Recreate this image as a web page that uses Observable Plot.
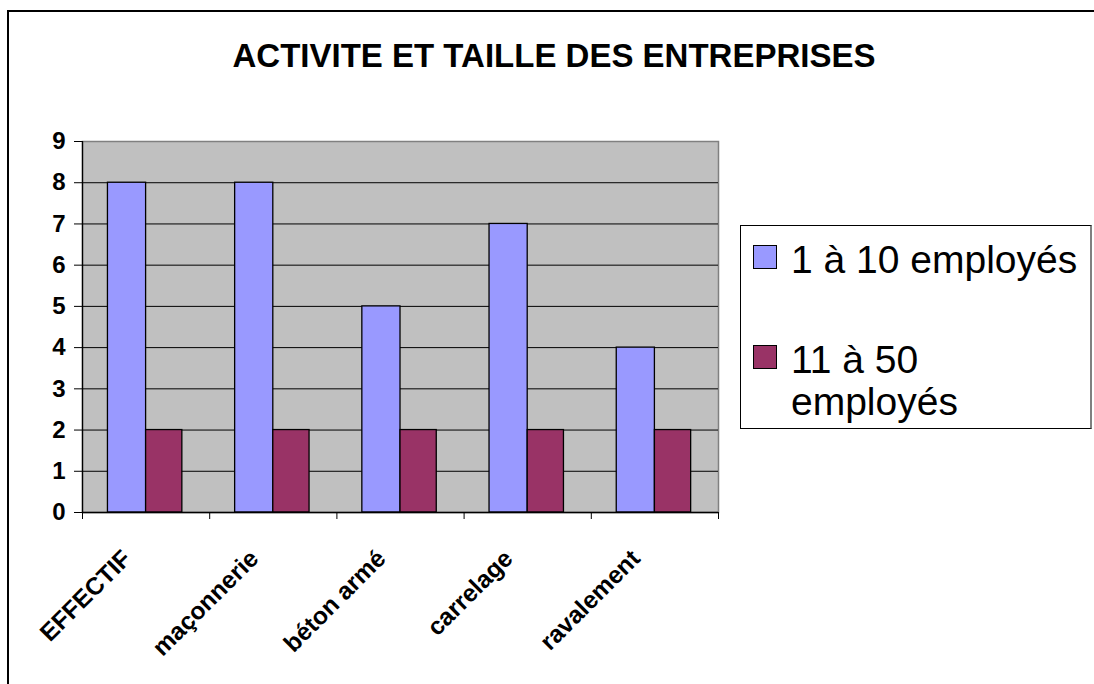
<!DOCTYPE html>
<html><head><meta charset="utf-8">
<script src="https://cdn.jsdelivr.net/npm/d3@7"></script>
<script src="https://cdn.jsdelivr.net/npm/@observablehq/plot@0.6"></script>
<style>
html,body{margin:0;background:#fff;font-family:"Liberation Sans",Arial,sans-serif;overflow:hidden;}
#wrap{position:relative;width:1094px;height:684px;overflow:hidden;background:#fff;}
#border{position:absolute;left:7px;top:10px;width:2000px;height:1000px;border-left:2px solid #000;border-top:2px solid #000;box-sizing:border-box;}
#title{position:absolute;left:0;width:1108px;top:39px;line-height:33px;text-align:center;font-weight:bold;font-size:33px;color:#000;}
#chart{position:absolute;left:0;top:0;}
#legend{position:absolute;left:740px;top:225px;width:352px;height:204px;border:1px solid #000;border-right:2px solid #808080;box-sizing:border-box;background:#fff;}
.item{position:absolute;left:12px;display:flex;align-items:flex-start;}
.sw{width:24px;height:24px;border:1px solid #000;box-sizing:border-box;margin-top:6px;margin-right:14px;flex:none;}
.lt{font-size:39px;line-height:42px;color:#000;white-space:nowrap;}
</style></head>
<body>
<div id="wrap">
  <div id="border"></div>
  <div id="chart"></div>
  <div id="title"></div>
  <div id="legend"></div>
</div>
<script>
const title = "ACTIVITE ET TAILLE DES ENTREPRISES";
const categories = ["EFFECTIF", "maçonnerie", "béton armé", "carrelage", "ravalement"];
const seriesNames = ["1 à 10 employés", "11 à 50 employés"];
const seriesLegendLines = [["1 à 10 employés"], ["11 à 50", "employés"]];
const seriesColors = ["#9999FF", "#993366"];
const small = [8, 8, 5, 7, 4];
const medium = [2, 2, 2, 2, 2];
const yTicks = [0, 1, 2, 3, 4, 5, 6, 7, 8, 9];
const gridValues = [1, 2, 3, 4, 5, 6, 7, 8];
const xBoundaries = [0, 1, 2, 3, 4, 5];

document.getElementById("title").textContent = title;

const rows = [];
categories.forEach((c, i) => {
  rows.push({cat: c, i, s: 0, value: small[i]});
  rows.push({cat: c, i, s: 1, value: medium[i]});
});

const font = '"Liberation Sans", Arial, sans-serif';
const chart = Plot.plot({
  width: 740,
  height: 684,
  marginLeft: 82,
  marginRight: 22,
  marginTop: 141,
  marginBottom: 172,
  style: {fontFamily: font, color: "#000", background: "transparent", overflow: "visible"},
  x: {type: "linear", domain: [0, categories.length], axis: null},
  y: {domain: [0, 9], axis: null},
  marks: [
    Plot.frame({fill: "#C0C0C0", stroke: "#808080", strokeWidth: 1.5}),
    Plot.ruleY(gridValues, {stroke: "#000", strokeWidth: 1}),
    Plot.rectY(rows, {
      x1: d => d.i + (d.s === 0 ? 0.2 : 0.5),
      x2: d => d.i + (d.s === 0 ? 0.5 : 0.785),
      y1: 0, y2: "value",
      fill: d => seriesColors[d.s],
      stroke: "#000", strokeWidth: 1.3
    }),
    Plot.ruleX([0], {stroke: "#000", strokeWidth: 1.3}),
    Plot.ruleY([0], {stroke: "#000", strokeWidth: 1.3}),
    Plot.axisY(yTicks, {tickSize: 8, tickPadding: 9, fontSize: 24, fontWeight: "bold", label: null, stroke: "#000", fill: "#000"}),
    Plot.axisX(xBoundaries, {tickSize: 7, tickFormat: () => "", label: null, stroke: "#000"}),
    Plot.text(categories, {
      x: (d, i) => i + 0.5, y: 0, text: d => d,
      rotate: -45, textAnchor: "end", dx: -19, dy: 42,
      fontSize: 24.5, fontWeight: "bold", fill: "#000"
    })
  ]
});
document.getElementById("chart").appendChild(chart);

const legend = document.getElementById("legend");
const tops = [13, 113];
seriesLegendLines.forEach((lines, k) => {
  const it = document.createElement("div");
  it.className = "item";
  it.style.top = tops[k] + "px";
  const sw = document.createElement("div");
  sw.className = "sw";
  sw.style.background = seriesColors[k];
  const t = document.createElement("div");
  t.className = "lt";
  t.innerHTML = lines.join("<br>");
  it.appendChild(sw); it.appendChild(t);
  legend.appendChild(it);
});
</script>
</body></html>
